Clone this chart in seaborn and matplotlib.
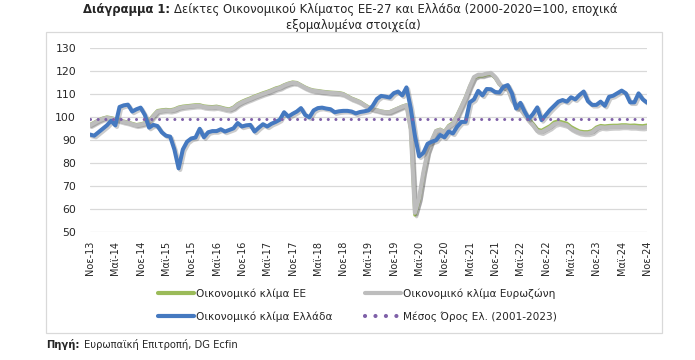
import numpy as np
import pandas as pd
import matplotlib
matplotlib.use("Agg")
import matplotlib.pyplot as plt
import matplotlib.patheffects as pe
from matplotlib.patches import Rectangle
import seaborn as sns

# --- data (monthly Nov-13 .. Nov-24) ---
greece = [92.5, 92.0, 93.5, 95.0, 96.5, 98.5, 96.5, 104.5, 105.2, 105.5, 102.5, 103.5,
          104.2, 101.0, 95.5, 96.7, 96.2, 93.5, 92.0, 91.6, 86.0, 77.8, 86.0, 89.4,
          90.8, 91.2, 95.0, 91.3, 93.5, 94.0, 94.0, 94.8, 93.8, 94.5, 95.2, 97.5,
          96.0, 96.5, 96.7, 93.8, 95.5, 97.0, 96.0, 97.2, 98.0, 99.0, 102.2, 100.3,
          101.5, 102.5, 104.0, 101.0, 100.0, 103.0, 104.0, 104.2, 103.8, 103.5, 102.2, 102.6,
          102.8, 102.8, 102.5, 101.7, 102.3, 102.6, 103.0, 105.0, 108.0, 109.3, 109.0, 108.6,
          110.5, 111.2, 109.5, 113.0, 104.0, 92.0, 83.0, 84.5, 88.5, 89.4, 90.0, 92.3,
          91.3, 93.8, 93.0, 95.9, 98.0, 98.0, 106.5, 107.8, 111.5, 109.5, 112.3, 112.2,
          111.0, 110.8, 113.3, 114.0, 110.4, 103.8, 106.3, 102.5, 99.3, 101.5, 104.3, 98.8,
          101.0, 103.2, 105.0, 106.8, 107.5, 106.8, 108.7, 107.8, 109.7, 111.2, 107.0, 105.4,
          105.4, 106.8, 105.0, 108.9, 109.4, 110.5, 111.6, 110.4, 106.5, 106.5, 110.4, 107.8,
          106.4]

eurozone = [96.5, 97.5, 98.5, 99.3, 99.8, 99.5, 99.0, 98.5, 98.0, 97.6, 97.0, 96.5,
            96.8, 97.3, 98.2, 100.5, 102.5, 102.8, 103.0, 102.8, 103.2, 104.0, 104.4, 104.6,
            104.8, 105.0, 105.0, 104.5, 104.3, 104.2, 104.4, 104.0, 103.5, 103.2, 104.0, 105.5,
            106.5, 107.3, 108.0, 108.8, 109.5, 110.2, 110.8, 111.5, 112.3, 112.8, 113.8, 114.5,
            115.0, 114.8, 113.8, 112.8, 112.0, 111.5, 111.3, 111.0, 110.8, 110.6, 110.5, 110.4,
            110.0, 109.0, 108.0, 107.3, 106.5, 105.3, 104.2, 103.4, 103.0, 102.5, 102.2, 102.2,
            103.0, 103.8, 104.6, 105.2, 95.0, 58.5, 65.0, 76.0, 85.0, 90.0, 94.0, 94.5,
            93.5, 96.0, 97.0, 100.5, 104.5, 108.5, 113.3, 117.5, 118.5, 118.5, 119.0, 119.3,
            117.5, 114.5, 113.0, 112.5, 107.5, 104.5, 103.5, 101.0, 98.5, 96.5, 94.0, 93.5,
            94.5, 95.5, 97.0, 97.5, 97.0, 96.5, 95.0, 94.0, 93.3, 93.0, 93.0, 93.5,
            95.0, 95.7, 95.5, 95.7, 95.8, 95.8, 96.0, 96.0, 95.8, 95.8, 95.6, 95.5,
            95.8]

eu = [96.8, 97.8, 98.8, 99.6, 100.1, 99.8, 99.3, 98.8, 98.3, 97.9, 97.3, 96.8,
      97.1, 97.6, 98.6, 100.9, 102.9, 103.2, 103.4, 103.2, 103.6, 104.4, 104.8, 105.0,
      105.2, 105.4, 105.4, 104.9, 104.7, 104.6, 104.8, 104.4, 103.9, 103.6, 104.4, 105.9,
      106.9, 107.7, 108.4, 109.2, 109.9, 110.6, 111.2, 111.9, 112.7, 113.2, 114.1, 114.8,
      115.3, 115.1, 114.1, 113.1, 112.3, 111.8, 111.6, 111.3, 111.1, 110.9, 110.8, 110.7,
      110.3, 109.3, 108.3, 107.6, 106.8, 105.6, 104.5, 103.6, 103.2, 102.7, 102.4, 102.4,
      103.2, 104.0, 104.8, 105.4, 94.6, 57.5, 64.0, 75.5, 84.8, 90.0, 94.2, 94.8,
      93.8, 96.4, 97.6, 101.0, 104.8, 108.8, 113.5, 117.2, 118.0, 118.0, 118.6, 118.9,
      117.2, 114.3, 112.9, 112.5, 107.8, 105.0, 104.0, 101.6, 99.2, 97.2, 94.8, 94.3,
      95.3, 96.3, 97.9, 98.4, 97.9, 97.4, 95.9, 94.9, 94.0, 93.7, 93.7, 94.2,
      95.7, 96.4, 96.2, 96.4, 96.5, 96.5, 96.7, 96.7, 96.5, 96.6, 96.4, 96.3,
      96.6]

greece_avg = 99.4  # Μέσος Όρος Ελ. (2001-2023)

tick_labels = ["Νοε-13", "Μαϊ-14", "Νοε-14", "Μαϊ-15", "Νοε-15", "Μαϊ-16", "Νοε-16",
               "Μαϊ-17", "Νοε-17", "Μαϊ-18", "Νοε-18", "Μαϊ-19", "Νοε-19", "Μαϊ-20",
               "Νοε-20", "Μαϊ-21", "Νοε-21", "Μαϊ-22", "Νοε-22", "Μαϊ-23", "Νοε-23",
               "Μαϊ-24", "Νοε-24"]

df = pd.DataFrame({"month": np.arange(len(greece)), "eu": eu, "ez": eurozone, "gr": greece})

# --- style ---
sns.set_theme(style="white")
plt.rcParams["font.family"] = ["DejaVu Sans"]

W, H = 695, 360
fig = plt.figure(figsize=(W / 100, H / 100), dpi=100)
ax = fig.add_axes([90 / W, 1 - 232.3 / H, 557 / W, 184 / H])

shadow = [pe.SimpleLineShadow(offset=(1.2, -1.2), shadow_color="k", alpha=0.22), pe.Normal()]

sns.lineplot(data=df, x="month", y="eu", color="#9BBB59", linewidth=2.4, ax=ax,
             label="Οικονομικό κλίμα ΕΕ", path_effects=shadow)
sns.lineplot(data=df, x="month", y="ez", color="#BDBDBD", linewidth=3.0, ax=ax,
             label="Οικονομικό κλίμα Ευρωζώνη", path_effects=shadow)
sns.lineplot(data=df, x="month", y="gr", color="#4579C0", linewidth=2.9, ax=ax,
             label="Οικονομικό κλίμα Ελλάδα", path_effects=shadow)
ax.axhline(greece_avg, color="#7F60A8", linewidth=2.2, linestyle=(0, (0.01, 2.5)),
           dash_capstyle="round", label="Μέσος Όρος Ελ. (2001-2023)")

if ax.get_legend() is not None:
    ax.get_legend().remove()

ax.set_xlim(0, len(greece) - 1)
ax.set_ylim(50, 130)
ax.set_yticks(range(50, 131, 10))
ax.set_xticks(range(0, len(greece), 6))
ax.set_xticklabels(tick_labels, rotation=90, fontsize=7)
ax.tick_params(axis="y", labelsize=7.8, pad=10, length=0)
ax.tick_params(axis="x", pad=6, length=0)
ax.set_xlabel("")
ax.set_ylabel("")
ax.grid(axis="y", color="#D9D9D9", linewidth=0.9)
ax.grid(axis="x", visible=False)
for s in ax.spines.values():
    s.set_visible(False)

# legend: rows EU / Eurozone, Greece / average
h, l = ax.get_legend_handles_labels()
order = [0, 2, 1, 3]
leg = fig.legend([h[i] for i in order], [l[i] for i in order], ncol=2, frameon=False,
                 fontsize=7.6, handlelength=3.4, handletextpad=0.2, columnspacing=3.0,
                 labelspacing=1.15, loc="center", bbox_to_anchor=((W / 2 + 10) / W, 1 - 305 / H))
for line in leg.get_lines():
    line.set_path_effects([])
    line.set_linewidth(3.0)

# chart frame
fig.patches.append(Rectangle((46 / W, 1 - 333 / H), 616 / W, 301 / H, transform=fig.transFigure,
                             fill=False, edgecolor="#D9D9D9", linewidth=0.9))

# title
fig.text(170 / W, 1 - 10 / H, "Διάγραμμα 1:", fontsize=8.4, fontweight="bold", ha="right", va="center")
fig.text(174 / W, 1 - 10 / H, "Δείκτες Οικονομικού Κλίματος ΕΕ-27 και Ελλάδα (2000-2020=100, εποχικά",
         fontsize=8.4, ha="left", va="center")
fig.text(353 / W, 1 - 26 / H, "εξομαλυμένα στοιχεία)", fontsize=8.4, ha="center", va="center")

# source
fig.text(46 / W, 1 - 345 / H, "Πηγή:", fontsize=7.2, fontweight="bold", ha="left", va="center")
fig.text(84 / W, 1 - 345 / H, "Ευρωπαϊκή Επιτροπή, DG Ecfin", fontsize=7.2, ha="left", va="center")

fig.savefig("out.png", dpi=100)
